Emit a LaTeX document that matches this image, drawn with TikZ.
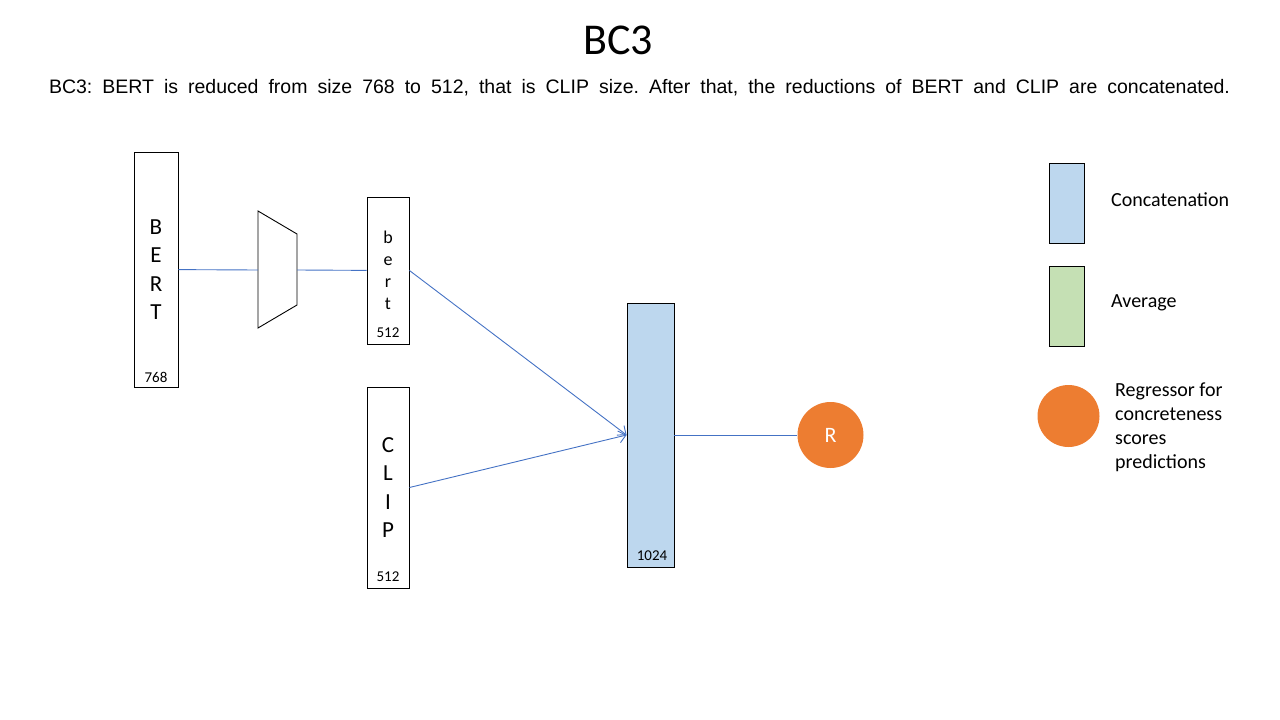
\documentclass[tikz,border=0pt]{standalone}
\usepackage{fontspec}
\setmainfont{Carlito}
\newfontfamily\arialfont{Liberation Sans}
\usetikzlibrary{arrows.meta}
\definecolor{concatblue}{HTML}{BDD7EE}
\definecolor{avggreen}{HTML}{C5E0B4}
\definecolor{regorange}{HTML}{ED7D31}
\definecolor{linkblue}{HTML}{4472C4}
\tikzset{
  vec/.style={draw, line width=0.9pt, inner sep=0pt, align=center,
    font=\fontsize{23}{28.5}\selectfont},
  dimtext/.style={inner sep=0pt, font=\fontsize{15}{17}\selectfont},
  keytext/.style={inner sep=0pt, anchor=west, align=left,
    font=\fontsize{20}{24}\selectfont},
  link/.style={draw=linkblue, line width=0.9pt},
  openhead/.style={-{Straight Barb[length=7pt,width=12pt]}}
}
\begin{document}
\begin{tikzpicture}[x=1pt,y=-1pt]
      \useasboundingbox (0,0) rectangle (1280,720);
      \node (title) at (618,40) {\fontsize{44}{50}\selectfont BC3};
      \node (caption) at (639.5,88) {\arialfont\fontsize{19.5}{22}\selectfont\frenchspacing
        \makebox[1181pt][s]{BC3: BERT is reduced from size 768 to 512, that is CLIP size. After that, the reductions of BERT and CLIP are concatenated.}};
      \node[vec, minimum width=44, minimum height=235] (BERT) at (156,269.5) {B\\E\\R\\T};
      \node[dimtext] (BERTdim) at (156,377) {768};
      \draw[line width=0.9pt] (258,211) -- (297,234) -- (297,305) -- (258,328) -- cycle;
      \coordinate (reducein) at (258,270);
      \coordinate (reduceout) at (297,270);
      \node[vec, minimum width=42, minimum height=147,
        font=\fontsize{18}{22}\selectfont] (bert) at (388,270.5) {b\\e\\r\\t};
      \node[dimtext] (bertdim) at (388,333) {512};
      \node[vec, minimum width=42, minimum height=201] (CLIP) at (388,487.5) {C\\L\\I\\P};
      \node[dimtext] (CLIPdim) at (388,577) {512};
      \node[vec, fill=concatblue, minimum width=47, minimum height=264] (concat) at (650.5,435) {};
      \node[dimtext] (concatdim) at (652,556) {1024};
      \node[circle, fill=regorange, minimum size=66, text=white,
        font=\fontsize{22}{26}\selectfont] (R) at (830.5,435) {R};
      \node[vec, fill=concatblue, minimum width=35, minimum height=80] (keyconcat) at (1066.5,203) {};
      \node[keytext] (keyconcattext) at (1111,200) {Concatenation};
      \node[vec, fill=avggreen, minimum width=35, minimum height=80] (keyavg) at (1066.5,306) {};
      \node[keytext] (keyavgtext) at (1111,303) {Average};
      \node[circle, fill=regorange, minimum size=62] (keyR) at (1068.5,416) {};
      \node[keytext, anchor=north west] (keyRtext) at (1115,383) {Regressor for\\concreteness\\scores\\predictions};
      \begin{scope}[link]
        \draw (BERT) to (reducein);
        \draw (reduceout) to (bert);
        \draw[openhead] (bert.east) to (concat.west);
        \draw[openhead] (CLIP.east) to (concat.west);
        \draw (concat) to (R);
      \end{scope}
    \end{tikzpicture}
\end{document}
